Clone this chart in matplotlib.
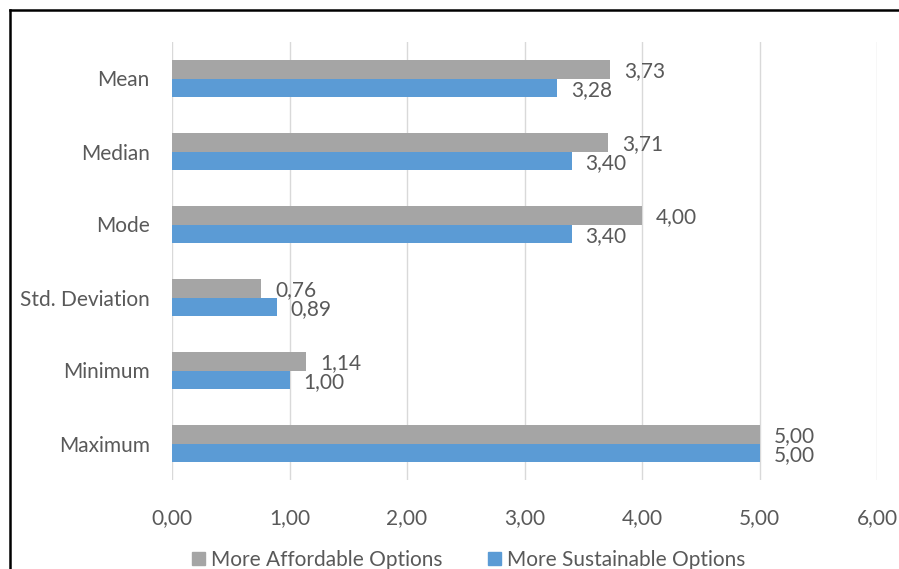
import matplotlib.pyplot as plt
from matplotlib.lines import Line2D
from matplotlib.patches import Patch

CATEGORIES = ['Mean', 'Median', 'Mode', 'Std. Deviation', 'Minimum', 'Maximum']
AFFORDABLE = [3.73, 3.71, 4.00, 0.76, 1.14, 5.00]
SUSTAINABLE = [3.28, 3.40, 3.40, 0.89, 1.00, 5.00]
X_TICKS = [0, 1, 2, 3, 4, 5, 6]
SERIES_NAMES = ['More Affordable Options', 'More Sustainable Options']

GRAY = '#A5A5A5'
BLUE = '#5B9BD5'
TEXT = '#595959'

plt.rcParams['font.family'] = ['Lato', 'DejaVu Sans']

fig = plt.figure(figsize=(8.99, 5.69), dpi=100)
ax = fig.add_axes([172 / 899, 1 - 480 / 569, (877 - 172) / 899, (480 - 42) / 569])

pos = list(range(len(CATEGORIES)))
h = 0.25
ax.barh([p - h / 2 for p in pos], AFFORDABLE, height=h, color=GRAY, zorder=3)
ax.barh([p + h / 2 for p in pos], SUSTAINABLE, height=h, color=BLUE, zorder=3)

for p, a, s in zip(pos, AFFORDABLE, SUSTAINABLE):
    ax.annotate(f'{a:.2f}'.replace('.', ','), (a, p - h / 2), xytext=(10, -1.5),
                textcoords='offset points', va='center', ha='left', fontsize=15, color=TEXT)
    ax.annotate(f'{s:.2f}'.replace('.', ','), (s, p + h / 2), xytext=(10, -1.5),
                textcoords='offset points', va='center', ha='left', fontsize=15, color=TEXT)

ax.set_xlim(0, 6)
ax.set_ylim(len(CATEGORIES) - 0.5, -0.5)
ax.set_xticks(X_TICKS)
ax.set_xticklabels([f'{t:.2f}'.replace('.', ',') for t in X_TICKS])
ax.set_yticks(pos)
ax.set_yticklabels(CATEGORIES)
ax.tick_params(axis='both', length=0, labelsize=15, labelcolor=TEXT)
ax.tick_params(axis='x', pad=20)
ax.tick_params(axis='y', pad=16)
ax.grid(axis='x', color='#D9D9D9', linewidth=1, zorder=0)
for s in ax.spines.values():
    s.set_visible(False)

handles = [Patch(color=GRAY), Patch(color=BLUE)]
fig.legend(handles, SERIES_NAMES, loc='center', bbox_to_anchor=(469 / 899, 1 - 560 / 569),
           ncol=2, frameon=False, fontsize=15, labelcolor=TEXT,
           handlelength=0.6, handleheight=0.6, handletextpad=0.3, columnspacing=2.2,
           borderpad=0)

# outer frame (top and left edges visible)
top = 1 - 9.5 / 569
left = 10 / 899
fig.add_artist(Line2D([left, 1], [top, top], color='black', linewidth=1.8, transform=fig.transFigure))
fig.add_artist(Line2D([left, left], [0, top], color='black', linewidth=1.8, transform=fig.transFigure))

fig.savefig('out.png', dpi=100)
